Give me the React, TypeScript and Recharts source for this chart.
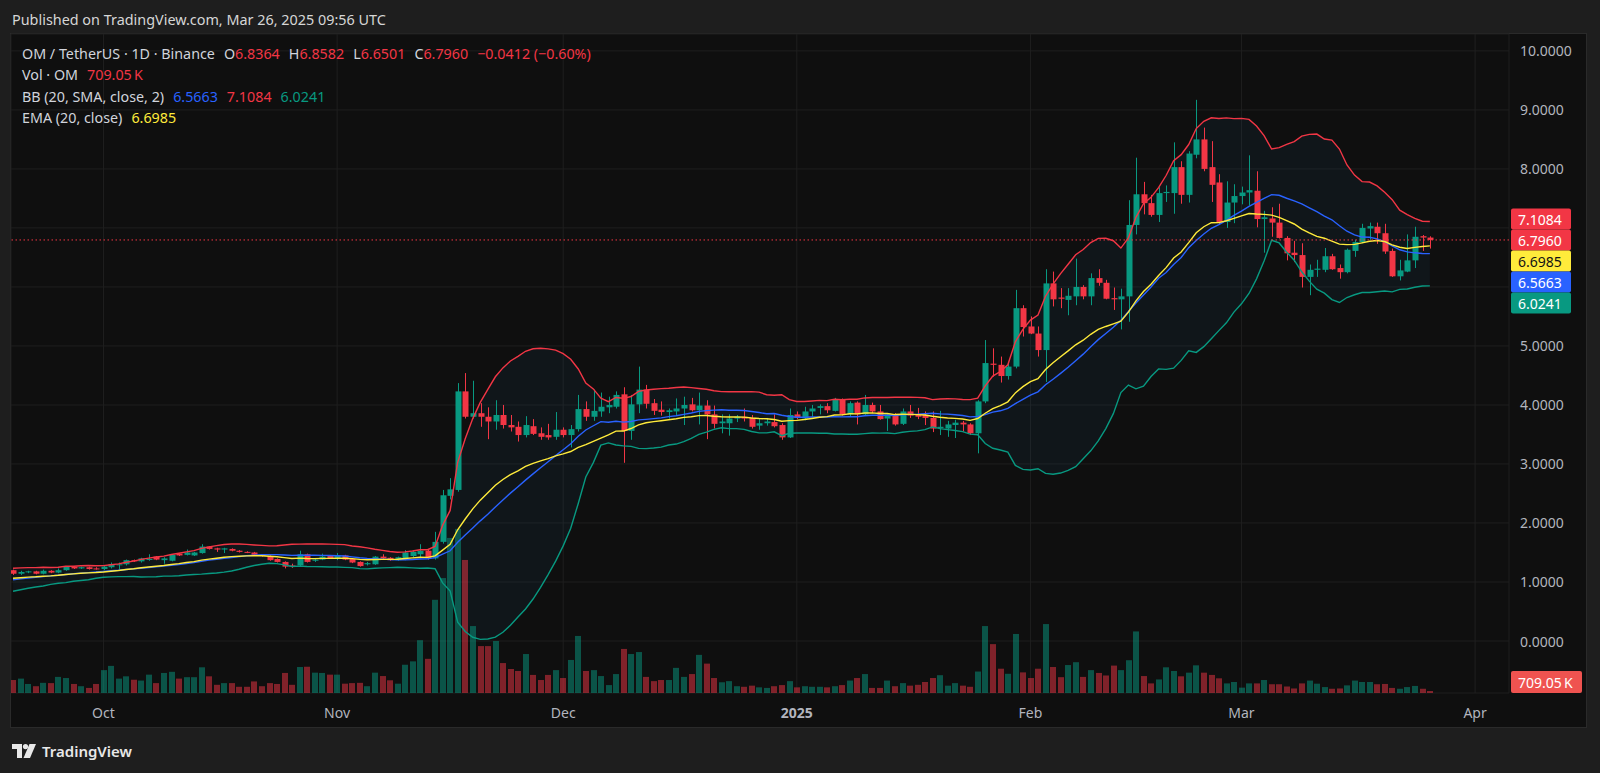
import React from 'react';
import {
  Area,
  Bar,
  CartesianGrid,
  ComposedChart,
  Line,
  ReferenceLine,
  XAxis,
  YAxis,
} from 'recharts';

// page + plot geometry (page pixels, the chart sits at 0,0)
const W = 1600;
const H = 773;
const PLOT_LEFT = 11;
const PLOT_RIGHT = 1509;
const PLOT_TOP = 34;
const PLOT_BOTTOM = 693;
const PRICE_AXIS_W = 78;
const TIME_AXIS_H = 35;

const UP = '#089981';
const DOWN = '#f23645';
const BLUE = '#2962ff';
const YELLOW = '#ffeb3b';
const GRID = '#1f1f1f';
const AXIS_TEXT = '#b2b5be';
const FONT = '"Noto Sans", "Open Sans", sans-serif';

// x = days counted from 1 Oct 2024, first candle is 19 Sep 2024
const FIRST_DAY = -12;
const X_DOMAIN: [number, number] = [-12.27, 186.5];
const PRICE_DOMAIN: [number, number] = [-0.881, 10.286];
const VOL_DOMAIN: [number, number] = [0, 233.3];

const monthTicks = [0, 31, 61, 92, 123, 151, 182];
const monthLabels = ['Oct', 'Nov', 'Dec', '2025', 'Feb', 'Mar', 'Apr'];
const priceTicks = [0, 1, 2, 3, 4, 5, 6, 7, 8, 9, 10];

// OM/USDT daily, 19 Sep 2024 .. 26 Mar 2025
const opens = [
  1.20, 1.14, 1.17, 1.18, 1.14, 1.19, 1.16, 1.20, 1.26, 1.23,
  1.25, 1.23, 1.22, 1.25, 1.29, 1.30, 1.37, 1.35, 1.38, 1.43,
  1.37, 1.36, 1.48, 1.46, 1.45, 1.49, 1.60, 1.57, 1.55, 1.56,
  1.53, 1.51, 1.50, 1.46, 1.44, 1.39, 1.34, 1.28, 1.28, 1.47,
  1.36, 1.38, 1.44, 1.41, 1.45, 1.39, 1.34, 1.30, 1.30, 1.43,
  1.41, 1.37, 1.40, 1.44, 1.47, 1.53, 1.40, 1.68, 2.46, 2.56,
  4.23, 3.80, 3.86, 3.80, 3.72, 3.83, 3.66, 3.63, 3.49, 3.64,
  3.52, 3.49, 3.46, 3.58, 3.49, 3.59, 3.93, 3.80, 3.89, 3.96,
  3.97, 4.18, 3.56, 4.01, 4.26, 4.03, 3.92, 3.88, 3.89, 3.94,
  4.01, 3.91, 3.99, 3.84, 3.69, 3.69, 3.77, 3.80, 3.78, 3.65,
  3.69, 3.71, 3.66, 3.45, 3.84, 3.77, 3.89, 3.95, 3.98, 3.90,
  4.10, 3.84, 4.04, 3.84, 4.00, 3.89, 3.77, 3.83, 3.68, 3.89,
  3.83, 3.83, 3.78, 3.61, 3.60, 3.66, 3.70, 3.67, 3.52, 4.06,
  4.70, 4.68, 4.49, 4.65, 5.64, 5.33, 5.21, 4.93, 6.06, 5.82,
  5.78, 5.84, 6.00, 5.84, 6.15, 6.07, 5.81, 5.79, 5.84, 7.05,
  7.57, 7.42, 7.22, 7.59, 7.59, 8.03, 7.56, 8.24, 8.50, 8.03,
  7.77, 7.10, 7.43, 7.54, 7.60, 7.63, 7.15, 7.16, 7.09, 6.83,
  6.58, 6.54, 6.17, 6.29, 6.29, 6.52, 6.32, 6.25, 6.61, 6.76,
  6.99, 7.02, 6.91, 6.61, 6.18, 6.26, 6.45, 6.86, 6.8364,
];

const highs = [
  1.21, 1.19, 1.19, 1.19, 1.21, 1.20, 1.23, 1.27, 1.27, 1.26,
  1.26, 1.25, 1.27, 1.33, 1.33, 1.38, 1.38, 1.41, 1.47, 1.44,
  1.42, 1.47, 1.49, 1.55, 1.51, 1.64, 1.61, 1.58, 1.58, 1.57,
  1.54, 1.52, 1.51, 1.47, 1.45, 1.40, 1.35, 1.31, 1.53, 1.48,
  1.39, 1.48, 1.45, 1.49, 1.46, 1.40, 1.35, 1.34, 1.44, 1.47,
  1.42, 1.43, 1.54, 1.53, 1.64, 1.56, 1.85, 2.56, 2.76, 4.37,
  4.54, 4.41, 4.03, 3.96, 4.08, 4.00, 3.83, 3.72, 3.81, 3.76,
  3.62, 3.68, 3.88, 3.62, 3.66, 4.17, 4.06, 4.26, 4.21, 4.14,
  4.23, 4.30, 4.17, 4.65, 4.34, 4.10, 4.06, 3.94, 4.11, 4.14,
  4.12, 4.21, 4.08, 3.99, 3.84, 3.84, 3.83, 3.94, 3.83, 3.76,
  3.78, 3.84, 3.69, 3.94, 3.89, 3.97, 4.00, 4.01, 4.03, 4.12,
  4.11, 4.06, 4.06, 4.17, 4.04, 4.00, 3.86, 3.86, 3.94, 4.00,
  3.95, 3.89, 3.89, 3.90, 3.73, 3.75, 3.73, 3.69, 4.08, 5.10,
  4.96, 4.82, 4.73, 5.95, 5.69, 5.50, 5.33, 6.30, 6.26, 5.98,
  5.98, 6.48, 6.03, 6.23, 6.30, 6.12, 5.99, 5.97, 7.47, 8.19,
  7.78, 7.56, 7.69, 7.72, 8.45, 8.13, 8.30, 9.17, 8.70, 8.47,
  7.91, 7.79, 7.74, 7.70, 8.23, 7.96, 7.29, 7.35, 7.41, 6.86,
  6.78, 6.74, 6.38, 6.46, 6.66, 6.56, 6.38, 6.65, 6.80, 7.07,
  7.09, 7.09, 7.07, 6.65, 6.46, 6.89, 7.02, 6.88, 6.8582,
];

const lows = [
  1.12, 1.12, 1.15, 1.13, 1.13, 1.15, 1.15, 1.19, 1.22, 1.22,
  1.21, 1.21, 1.20, 1.23, 1.22, 1.28, 1.34, 1.33, 1.36, 1.37,
  1.31, 1.35, 1.44, 1.45, 1.44, 1.48, 1.55, 1.51, 1.49, 1.52,
  1.50, 1.49, 1.45, 1.43, 1.36, 1.33, 1.23, 1.24, 1.27, 1.33,
  1.34, 1.37, 1.39, 1.37, 1.37, 1.32, 1.26, 1.28, 1.29, 1.39,
  1.36, 1.36, 1.37, 1.42, 1.40, 1.38, 1.38, 1.65, 2.40, 2.53,
  3.77, 3.77, 3.63, 3.42, 3.58, 3.60, 3.55, 3.38, 3.45, 3.49,
  3.41, 3.41, 3.41, 3.45, 3.28, 3.55, 3.73, 3.73, 3.80, 3.86,
  3.94, 3.02, 3.41, 3.86, 3.94, 3.83, 3.82, 3.77, 3.83, 3.66,
  3.89, 3.67, 3.42, 3.60, 3.52, 3.48, 3.71, 3.72, 3.60, 3.58,
  3.65, 3.62, 3.41, 3.44, 3.76, 3.74, 3.80, 3.84, 3.86, 3.89,
  3.82, 3.80, 3.67, 3.83, 3.86, 3.75, 3.56, 3.65, 3.66, 3.78,
  3.76, 3.66, 3.54, 3.49, 3.46, 3.44, 3.55, 3.49, 3.18, 4.03,
  4.48, 4.38, 4.43, 4.62, 5.16, 5.20, 4.82, 4.39, 5.67, 5.64,
  5.52, 5.69, 5.79, 5.69, 6.02, 5.79, 5.61, 5.28, 5.41, 6.89,
  7.23, 7.19, 7.10, 7.44, 7.24, 7.41, 7.43, 8.18, 7.96, 7.44,
  7.06, 7.00, 7.08, 7.40, 7.38, 7.01, 6.58, 6.85, 6.82, 6.45,
  6.42, 5.99, 5.86, 6.17, 6.25, 6.29, 6.14, 6.23, 6.51, 6.74,
  6.80, 6.73, 6.56, 6.17, 6.11, 6.25, 6.32, 6.61, 6.6501,
];

const closes = [
  1.14, 1.17, 1.18, 1.14, 1.19, 1.16, 1.20, 1.26, 1.23, 1.25,
  1.22, 1.22, 1.26, 1.30, 1.30, 1.37, 1.35, 1.40, 1.39, 1.38,
  1.40, 1.46, 1.45, 1.50, 1.50, 1.60, 1.56, 1.55, 1.57, 1.53,
  1.51, 1.50, 1.46, 1.44, 1.37, 1.34, 1.26, 1.26, 1.47, 1.34,
  1.38, 1.43, 1.40, 1.45, 1.38, 1.33, 1.27, 1.32, 1.43, 1.40,
  1.37, 1.42, 1.50, 1.51, 1.53, 1.40, 1.68, 2.47, 2.57, 4.23,
  3.80, 3.86, 3.80, 3.72, 3.83, 3.66, 3.62, 3.49, 3.66, 3.51,
  3.46, 3.45, 3.58, 3.49, 3.59, 3.93, 3.80, 3.90, 3.97, 4.00,
  4.17, 3.56, 4.01, 4.26, 4.02, 3.90, 3.88, 3.91, 3.94, 4.00,
  3.91, 3.99, 3.84, 3.68, 3.72, 3.77, 3.80, 3.77, 3.63, 3.69,
  3.72, 3.64, 3.45, 3.83, 3.78, 3.89, 3.94, 3.98, 3.91, 4.10,
  3.84, 4.03, 3.84, 4.00, 3.89, 3.76, 3.84, 3.67, 3.89, 3.82,
  3.80, 3.78, 3.60, 3.63, 3.67, 3.70, 3.67, 3.52, 4.06, 4.71,
  4.68, 4.49, 4.65, 5.64, 5.32, 5.21, 4.93, 6.06, 5.79, 5.80,
  5.85, 6.00, 5.84, 6.15, 6.07, 5.80, 5.79, 5.84, 7.05, 7.57,
  7.42, 7.22, 7.59, 7.61, 8.03, 7.56, 8.26, 8.50, 8.00, 7.73,
  7.10, 7.43, 7.54, 7.60, 7.64, 7.15, 7.18, 7.09, 6.83, 6.57,
  6.54, 6.17, 6.29, 6.31, 6.52, 6.30, 6.25, 6.63, 6.76, 7.00,
  7.03, 6.91, 6.60, 6.18, 6.28, 6.45, 6.85, 6.8364, 6.796,
];

// volume, millions of OM
const volumes = [
  4.6, 5.1, 3.2, 2.4, 3.6, 3.5, 5.7, 5.3, 3.2, 2.4,
  1.8, 3.2, 8.1, 9.6, 5.1, 5.9, 4.7, 4.4, 6.5, 3.5,
  7.1, 7.5, 5.1, 5.6, 5.6, 9.1, 5.9, 2.9, 3.5, 3.5,
  2.2, 2.2, 4.1, 2.4, 3.5, 3.2, 7.1, 2.9, 9.2, 9.3,
  7.2, 7.1, 6.5, 6.5, 3.3, 3.5, 3.6, 2.4, 7.2, 6.0,
  4.5, 3.3, 10.0, 11.2, 18.7, 12.1, 33.0, 40.7, 54.9, 58.1,
  47.1, 23.7, 16.6, 16.6, 18.4, 10.6, 8.5, 7.8, 13.8, 6.4,
  4.6, 6.4, 8.1, 5.3, 11.7, 20.2, 7.8, 8.1, 6.0, 2.8,
  6.7, 15.6, 13.8, 14.5, 5.7, 4.2, 4.6, 4.6, 8.9, 5.7,
  6.7, 13.5, 10.4, 5.3, 3.8, 4.2, 2.4, 2.2, 2.6, 2.0,
  1.8, 2.4, 2.8, 4.2, 2.0, 2.4, 2.2, 2.2, 2.0, 2.4,
  2.8, 4.4, 5.3, 6.7, 1.8, 1.8, 4.4, 2.4, 3.5, 2.6,
  2.9, 3.9, 5.3, 6.3, 2.6, 3.5, 2.6, 2.2, 7.6, 23.7,
  17.3, 8.6, 6.8, 20.9, 7.3, 5.3, 8.6, 24.4, 9.2, 5.6,
  9.9, 10.9, 5.7, 8.1, 7.1, 6.2, 9.7, 8.1, 11.6, 21.8,
  6.0, 3.4, 4.8, 9.1, 7.8, 5.9, 7.2, 9.8, 7.2, 6.4,
  5.2, 3.4, 3.9, 1.9, 3.4, 3.4, 4.6, 3.1, 3.1, 2.3,
  1.6, 3.4, 4.4, 3.3, 2.1, 1.5, 1.6, 2.7, 4.4, 3.9,
  3.9, 3.1, 3.2, 1.8, 1.5, 2.1, 2.5, 1.5, 0.709,
];

// closes of the 20 days before the first candle, only feed the 20-day indicators
const priorCloses = [
  0.90, 0.86, 0.88, 0.92, 0.95, 0.93, 0.97, 1.00, 0.98, 1.03,
  1.06, 1.02, 1.05, 1.09, 1.12, 1.10, 1.14, 1.18, 1.15, 1.19,
];

// legend / price label texts as shown by TradingView
const LAST_CLOSE = 6.796;
const LAST_VOLUME = 0.709;
const ohlcText = { o: '6.8364', h: '6.8582', l: '6.6501', c: '6.7960', chg: '−0.0412 (−0.60%)' };
const volText = '709.05\u2009K';
const bbText = { basis: '6.5663', upper: '7.1084', lower: '6.0241' };
const emaText = '6.6985';

const BOX_H = 21;
const LABEL_FONT = 14;

interface Row {
  day: number;
  open: number;
  high: number;
  low: number;
  close: number;
  volume: number;
  basis: number;
  upper: number;
  lower: number;
  ema: number;
}

function buildRows(): Row[] {
  const all = [...priorCloses, ...closes];
  const n0 = priorCloses.length;
  const k = 2 / 21;
  let ema = all[0];
  const rows: Row[] = [];
  for (let j = 0; j < all.length; j++) {
    if (j > 0) ema = all[j] * k + ema * (1 - k);
    if (j < n0) continue;
    const win = all.slice(j - 19, j + 1);
    const mean = win.reduce((a, b) => a + b, 0) / 20;
    const sd = Math.sqrt(win.reduce((a, b) => a + (b - mean) ** 2, 0) / 20);
    const i = j - n0;
    rows.push({
      day: FIRST_DAY + i,
      open: opens[i],
      high: highs[i],
      low: lows[i],
      close: closes[i],
      volume: volumes[i],
      basis: mean,
      upper: mean + 2 * sd,
      lower: mean - 2 * sd,
      ema,
    });
  }
  return rows;
}

const rows = buildRows();

// pixel row of a price, used only to keep axis labels clear of the price boxes
function priceY(v: number) {
  const [lo, hi] = PRICE_DOMAIN;
  return PLOT_TOP + ((hi - v) / (hi - lo)) * (PLOT_BOTTOM - PLOT_TOP);
}
const boxStackTop = priceY(LAST_CLOSE) - 1.5 * BOX_H;
const boxStackBottom = priceY(LAST_CLOSE) + 3.5 * BOX_H;

function Candle(props: any) {
  const { x, width, payload } = props;
  let { y, height } = props;
  if (height < 0) {
    y += height;
    height = -height;
  }
  const { open, close, high, low } = payload as Row;
  const color = close >= open ? UP : DOWN;
  const k = height / Math.max(high - low, 1e-9);
  const yo = y + (high - open) * k;
  const yc = y + (high - close) * k;
  const cx = Math.round(x + width / 2) + 0.5;
  const top = Math.min(yo, yc);
  const bodyH = Math.max(1, Math.abs(yo - yc));
  return (
    <g>
      <line x1={cx} x2={cx} y1={y} y2={y + height} stroke={color} strokeWidth={1} />
      <rect x={cx - 3} y={top} width={6} height={bodyH} fill={color} />
    </g>
  );
}

function VolumeBar(props: any) {
  const { x, y, width, height, payload } = props;
  const r = payload as Row;
  const color = r.close >= r.open ? UP : DOWN;
  const cx = Math.round(x + width / 2);
  return <rect x={cx - 3} y={y} width={6} height={Math.max(0, height)} fill={color} fillOpacity={0.5} />;
}

function TimeTick(props: any) {
  const { x, payload } = props;
  const idx = monthTicks.indexOf(payload.value);
  const label = monthLabels[idx] ?? '';
  return (
    <text
      x={x}
      y={PLOT_BOTTOM + 19}
      textAnchor="middle"
      dominantBaseline="central"
      fill={AXIS_TEXT}
      style={{ fontFamily: FONT, fontSize: LABEL_FONT, fontWeight: label === '2025' ? 700 : 400 }}
    >
      {label}
    </text>
  );
}

function PriceTick(props: any) {
  const { y, payload } = props;
  if (y > boxStackTop - 8 && y < boxStackBottom + 8) return <g />;
  return (
    <text
      x={PLOT_RIGHT + 11}
      y={y}
      textAnchor="start"
      dominantBaseline="central"
      fill={AXIS_TEXT}
      style={{ fontFamily: FONT, fontSize: LABEL_FONT }}
    >
      {Number(payload.value).toFixed(4)}
    </text>
  );
}

// stacked price boxes, anchored on the last close line
function PriceBoxes(props: any) {
  const y0 = props.viewBox?.y ?? priceY(LAST_CLOSE);
  const boxes = [
    { text: bbText.upper, bg: DOWN, fg: '#ffffff' },
    { text: ohlcText.c, bg: DOWN, fg: '#ffffff' },
    { text: emaText, bg: YELLOW, fg: '#131313' },
    { text: bbText.basis, bg: BLUE, fg: '#ffffff' },
    { text: bbText.lower, bg: UP, fg: '#ffffff' },
  ];
  const bx = PLOT_RIGHT + 2;
  return (
    <g>
      {boxes.map((b, i) => {
        const cy = y0 + (i - 1) * BOX_H;
        return (
          <g key={b.text}>
            <rect x={bx} y={cy - BOX_H / 2} width={60} height={BOX_H} rx={2} fill={b.bg} />
            <text
              x={bx + 7}
              y={cy + 0.5}
              dominantBaseline="central"
              fill={b.fg}
              style={{ fontFamily: FONT, fontSize: LABEL_FONT }}
            >
              {b.text}
            </text>
          </g>
        );
      })}
    </g>
  );
}

function VolumeBox(props: any) {
  const y = Math.min(props.viewBox?.y ?? PLOT_BOTTOM, PLOT_BOTTOM - 11);
  const bx = PLOT_RIGHT + 2;
  return (
    <g>
      <rect x={bx} y={y - 11} width={71} height={22} rx={2} fill="#ef5350" />
      <text x={bx + 7} y={y + 0.5} dominantBaseline="central" fill="#ffffff" style={{ fontFamily: FONT, fontSize: LABEL_FONT }}>
        {volText}
      </text>
    </g>
  );
}

function Logo() {
  return (
    <svg width={25} height={15} viewBox="0 0 25 15">
      <path d="M0 0 H10 V14 H5 V5 H0 Z" fill="#e8e8e8" />
      <circle cx={13.5} cy={2.6} r={2.6} fill="#e8e8e8" />
      <path d="M17.5 0 H24 L18 14 H11.5 Z" fill="#e8e8e8" />
    </svg>
  );
}

const grey = '#d1d4dc';
const gap = { marginLeft: 9 };

export default function App() {
  return (
    <div
      style={{
        position: 'absolute',
        left: 0,
        top: 0,
        width: W,
        height: H,
        background: '#1e1e1e',
        fontFamily: FONT,
        overflow: 'hidden',
      }}
    >
      <div style={{ position: 'absolute', left: 12, top: 10, lineHeight: '20px', fontSize: 14.4, color: '#d6d6d6' }}>
        Published on TradingView.com, Mar 26, 2025 09:56 UTC
      </div>

      <div
        style={{
          position: 'absolute',
          left: 10,
          top: 33,
          width: 1577,
          height: 695,
          background: '#0f0f0f',
          border: '1px solid #2a2a2a',
          boxSizing: 'border-box',
        }}
      />

      <div style={{ position: 'absolute', left: 0, top: 0 }}>
        <ComposedChart
          width={W}
          height={H}
          data={rows}
          margin={{
            top: PLOT_TOP,
            right: W - PLOT_RIGHT - PRICE_AXIS_W,
            bottom: H - PLOT_BOTTOM - TIME_AXIS_H,
            left: PLOT_LEFT,
          }}
        >
          <CartesianGrid xAxisId="t" yAxisId="price" stroke={GRID} />
          <XAxis
            xAxisId="t"
            dataKey="day"
            type="number"
            domain={X_DOMAIN}
            allowDataOverflow
            ticks={monthTicks}
            interval={0}
            tick={<TimeTick />}
            axisLine={false}
            tickLine={false}
            height={TIME_AXIS_H}
          />
          <XAxis xAxisId="v" dataKey="day" type="number" domain={X_DOMAIN} allowDataOverflow hide />
          <YAxis
            yAxisId="price"
            orientation="right"
            domain={PRICE_DOMAIN}
            allowDataOverflow
            ticks={priceTicks}
            interval={0}
            tick={<PriceTick />}
            axisLine={false}
            tickLine={false}
            width={PRICE_AXIS_W}
          />
          <YAxis yAxisId="vol" domain={VOL_DOMAIN} allowDataOverflow hide />

          <Bar
            xAxisId="v"
            yAxisId="vol"
            dataKey="volume"
            barSize={6}
            shape={<VolumeBar />}
            isAnimationActive={false}
          />
          <Area
            xAxisId="t"
            yAxisId="price"
            type="linear"
            dataKey={(r: Row) => [r.lower, r.upper]}
            stroke="none"
            fill="#2196f3"
            fillOpacity={0.05}
            isAnimationActive={false}
          />
          <Line xAxisId="t" yAxisId="price" type="linear" dataKey="upper" stroke={DOWN} strokeWidth={1.4} dot={false} isAnimationActive={false} />
          <Line xAxisId="t" yAxisId="price" type="linear" dataKey="lower" stroke={UP} strokeWidth={1.4} dot={false} isAnimationActive={false} />
          <Line xAxisId="t" yAxisId="price" type="linear" dataKey="basis" stroke={BLUE} strokeWidth={1.4} dot={false} isAnimationActive={false} />
          <Line xAxisId="t" yAxisId="price" type="linear" dataKey="ema" stroke={YELLOW} strokeWidth={1.4} dot={false} isAnimationActive={false} />
          <ReferenceLine
            xAxisId="t"
            yAxisId="price"
            y={LAST_CLOSE}
            stroke={DOWN}
            strokeDasharray="1.5 2.5"
            label={<PriceBoxes />}
          />
          <Bar
            xAxisId="t"
            yAxisId="price"
            dataKey={(r: Row) => [r.low, r.high]}
            barSize={6}
            shape={<Candle />}
            isAnimationActive={false}
          />
          <ReferenceLine xAxisId="v" yAxisId="vol" y={LAST_VOLUME} stroke="none" label={<VolumeBox />} />
        </ComposedChart>
      </div>

      <div
        style={{
          position: 'absolute',
          left: 22,
          top: 43,
          fontSize: 14.3,
          lineHeight: '21.3px',
          color: grey,
          whiteSpace: 'nowrap',
        }}
      >
        <div>
          <span>OM / TetherUS · 1D · Binance</span>
          <span style={gap}>O<span style={{ color: DOWN }}>{ohlcText.o}</span></span>
          <span style={gap}>H<span style={{ color: DOWN }}>{ohlcText.h}</span></span>
          <span style={gap}>L<span style={{ color: DOWN }}>{ohlcText.l}</span></span>
          <span style={gap}>C<span style={{ color: DOWN }}>{ohlcText.c}</span></span>
          <span style={{ ...gap, color: DOWN }}>{ohlcText.chg}</span>
        </div>
        <div>
          <span>Vol · OM</span>
          <span style={{ ...gap, color: DOWN }}>{volText}</span>
        </div>
        <div>
          <span>BB (20, SMA, close, 2)</span>
          <span style={{ ...gap, color: BLUE }}>{bbText.basis}</span>
          <span style={{ ...gap, color: DOWN }}>{bbText.upper}</span>
          <span style={{ ...gap, color: UP }}>{bbText.lower}</span>
        </div>
        <div>
          <span>EMA (20, close)</span>
          <span style={{ ...gap, color: YELLOW }}>{emaText}</span>
        </div>
      </div>

      <div style={{ position: 'absolute', left: 12, top: 742, display: 'flex', alignItems: 'center', gap: 5 }}>
        <Logo />
        <span style={{ color: '#e8e8e8', fontSize: 15, fontWeight: 600, lineHeight: '18px' }}>TradingView</span>
      </div>
    </div>
  );
}
